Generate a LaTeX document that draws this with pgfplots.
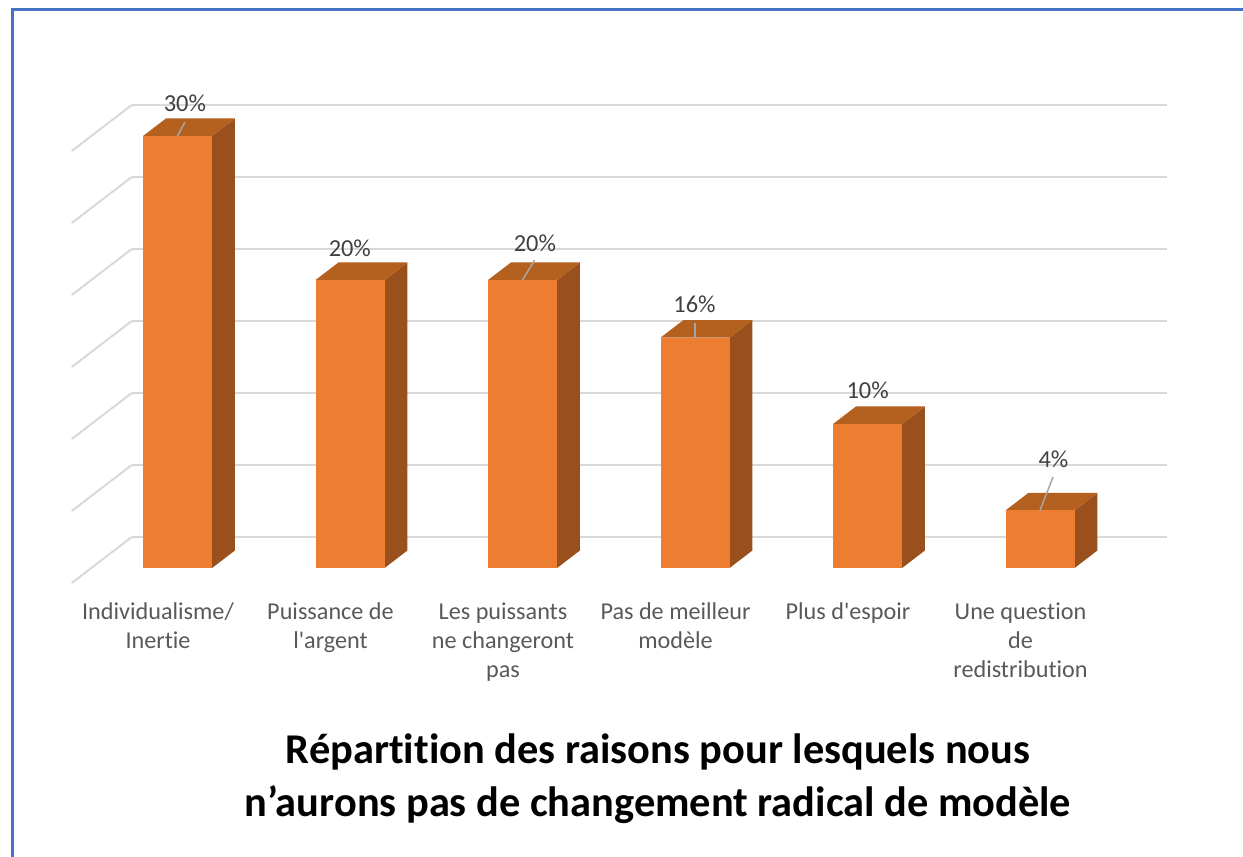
\documentclass[border=0pt]{standalone}
\usepackage{pgfplots}
\pgfplotsset{compat=1.18}
\usepackage{pgfplotstable}
\usepackage{fontspec}
\setmainfont{Carlito}[Ligatures={TeXOff,NoCommon}]

\definecolor{barfront}{HTML}{ED7D31}
\definecolor{bartop}{HTML}{B4601F}
\definecolor{barside}{HTML}{99501C}
\definecolor{gridgray}{HTML}{D9D9D9}
\definecolor{ticktext}{HTML}{595959}
\definecolor{labeltext}{HTML}{404040}
\definecolor{leader}{HTML}{A6A6A6}
\definecolor{frameblue}{HTML}{4472C4}

% share of answers (%)
\pgfplotstableread{
idx value
0 30
1 20
2 20
3 16
4 10
5 4
}\bardata

% where the data labels sit (x, depth, baseline height)
\pgfplotstableread{
lx ly lz value
-0.023 0.515 31.10 30
0.933 0.515 21.03 20
2.006 0.515 21.38 20
2.931 0.515 17.14 16
3.935 0.515 11.17 10
5.012 0.515 6.38 4
}\labeldata

\begin{document}
\begin{tikzpicture}
\useasboundingbox (0,0) rectangle (621.5pt,428.5pt);
\draw[frameblue, line width=1.5pt] (6pt,-5pt) -- (6pt,423.75pt) -- (630pt,423.75pt);
\begin{axis}[
  at={(79pt,137pt)}, anchor=origin,
  x={(86.25pt,0pt)}, y={(30pt,23pt)}, z={(0pt,7.2pt)},
  xmin=-0.5, xmax=5.5, ymin=0, ymax=1, zmin=0, zmax=30,
  clip=false,
  axis line style={draw=none},
  tick style={draw=none},
  xtick={0,...,5},
  xticklabels={Individualisme/\\Inertie, Puissance de\\l'argent, Les puissants\\ne changeront\\pas, Pas de meilleur\\modèle, Plus d'espoir, Une question\\de\\redistribution},
  xticklabel style={anchor=north, align=center, inner sep=0pt, yshift=-9.5pt,
    font=\fontsize{12.1}{14.5}\selectfont, text=ticktext},
  ytick=\empty,
  ztick={0,5,...,30},
  zticklabels={},
  zmajorgrids,
  major grid style={gridgray, line width=1pt},
  /pgf/number format/assume math mode=true,
]
% 3D bars: side, top, front face
\pgfplotsinvokeforeach{0,...,5}{
  \pgfplotstablegetelem{#1}{value}\of\bardata
  \edef\barval{\pgfplotsretval}
  \pgfmathsetmacro\xl{#1-0.2}
  \pgfmathsetmacro\xr{#1+0.2}
  \addplot3[draw=none, fill=barside, mark=none] coordinates {(\xr,0.325,0) (\xr,0.708,0) (\xr,0.708,\barval) (\xr,0.325,\barval)};
  \addplot3[draw=none, fill=bartop, mark=none] coordinates {(\xl,0.325,\barval) (\xr,0.325,\barval) (\xr,0.708,\barval) (\xl,0.708,\barval)};
  \addplot3[draw=none, fill=barfront, mark=none] coordinates {(\xl,0.325,0) (\xr,0.325,0) (\xr,0.325,\barval) (\xl,0.325,\barval)};
}
% leader lines
\addplot3[leader, line width=0.75pt, mark=none] coordinates {(0,0.325,30) (0.043,0.325,30.96)};
\addplot3[leader, line width=0.75pt, mark=none] coordinates {(2,0.325,20) (2.07,0.325,21.38)};
\addplot3[leader, line width=0.75pt, mark=none] coordinates {(3,0.325,16) (3,0.325,17.02)};
\addplot3[leader, line width=0.75pt, mark=none] coordinates {(5,0.325,4) (5.0756,0.325,6.33)};
% data labels
\addplot3[draw=none, mark=none, point meta=explicit,
  nodes near coords={\pgfmathprintnumber{\pgfplotspointmeta}\%},
  every node near coord/.append style={anchor=base, inner sep=0pt,
    font=\fontsize{12.2}{14}\selectfont, text=labeltext}]
  table[x=lx, y=ly, z=lz, meta=value] {\labeldata};
\end{axis}
\node[anchor=base, font=\bfseries\fontsize{21.2}{26}\selectfont] at (329pt,46.5pt) {Répartition des raisons pour lesquels nous};
\node[anchor=base, font=\bfseries\fontsize{21.2}{26}\selectfont] at (329pt,20.2pt) {n’aurons pas de changement radical de modèle};
\end{tikzpicture}
\end{document}
